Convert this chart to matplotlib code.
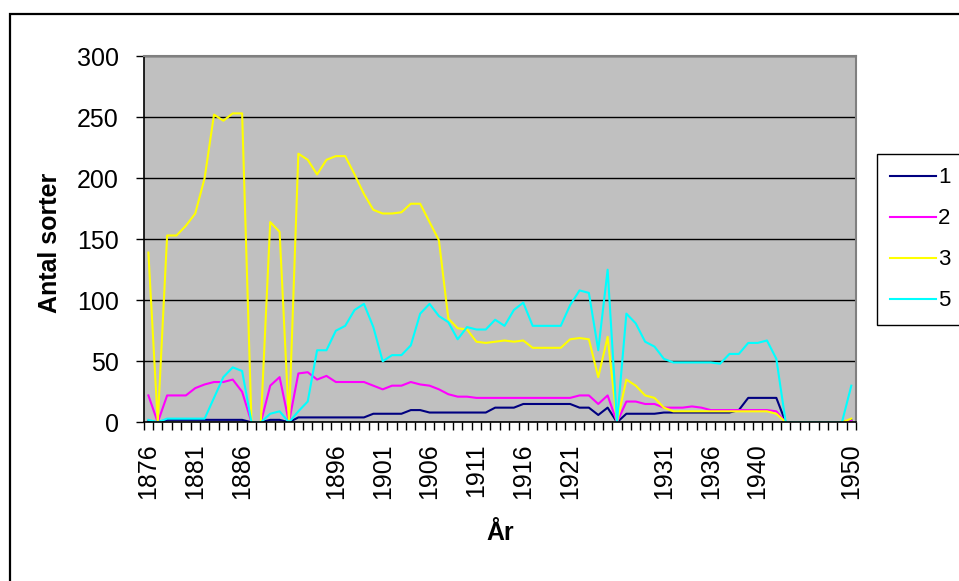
import numpy as np
import matplotlib
matplotlib.use('Agg')
import matplotlib.pyplot as plt
from matplotlib.patches import Rectangle

plt.rcParams['font.family'] = ['Liberation Sans', 'DejaVu Sans']

# labels shown on every 5th category (some label cells are empty)
tick_labels = ['1876', '1881', '1886', '', '1896', '1901', '1906', '1911',
               '1916', '1921', '', '1931', '1936', '1940', '', '1950']

serie_1 = [1, 0, 2, 2, 2, 2, 2, 2, 2, 2, 2, 0, 0, 2, 2, 0,
           4, 4, 4, 4, 4, 4, 4, 4, 7, 7, 7, 7, 10, 10, 8, 8,
           8, 8, 8, 8, 8, 12, 12, 12, 15, 15, 15, 15, 15, 15, 12, 12,
           6, 12, 0, 7, 7, 7, 7, 8, 8, 8, 8, 8, 8, 8, 8, 10,
           20, 20, 20, 20, 0, 0, 0, 0, 0, 0, 0, 2]

serie_2 = [22, 0, 22, 22, 22, 28, 31, 33, 33, 35, 25, 0, 0, 30, 37, 0,
           40, 41, 35, 38, 33, 33, 33, 33, 30, 27, 30, 30, 33, 31, 30, 27,
           23, 21, 21, 20, 20, 20, 20, 20, 20, 20, 20, 20, 20, 20, 22, 22,
           15, 22, 0, 17, 17, 15, 15, 12, 12, 12, 13, 12, 10, 10, 10, 10,
           10, 10, 10, 9, 0, 0, 0, 0, 0, 0, 0, 1]

serie_3 = [139, 0, 153, 153, 161, 171, 200, 252, 247, 253, 253, 0, 0, 164, 156, 0,
           220, 215, 203, 215, 218, 218, 203, 187, 174, 171, 171, 172, 179, 179, 164, 149,
           85, 77, 76, 66, 65, 66, 67, 66, 67, 61, 61, 61, 61, 68, 69, 68,
           37, 70, 0, 35, 30, 22, 20, 12, 9, 9, 9, 9, 9, 9, 9, 9,
           9, 9, 9, 7, 0, 0, 0, 0, 0, 0, 0, 3]

serie_5 = [2, 0, 3, 3, 3, 3, 3, 20, 37, 45, 42, 0, 0, 7, 9, 0,
           9, 17, 59, 59, 75, 79, 92, 97, 78, 50, 55, 55, 63, 89, 97, 87,
           82, 68, 78, 76, 76, 84, 79, 92, 98, 79, 79, 79, 79, 96, 108, 106,
           59, 125, 0, 89, 81, 66, 62, 52, 49, 49, 49, 49, 49, 48, 56, 56,
           65, 65, 67, 52, 0, 0, 0, 0, 0, 0, 0, 30]

series = [serie_1, serie_2, serie_3, serie_5]
names = ['1', '2', '3', '5']
colors = ['#000080', '#FF00FF', '#FFFF00', '#00FFFF']

fig = plt.figure(figsize=(9.59, 5.81), dpi=100)
ax = fig.add_axes([143.7 / 959, 1 - 422.3 / 581, 712.3 / 959, 366.3 / 581])

x = np.arange(len(serie_1))
for vals, col, name in zip(series, colors, names):
    ax.plot(x, vals, color=col, lw=1.5, label=name)

ax.set_facecolor('#C0C0C0')
ax.set_xlim(-0.5, len(x) - 0.5)
ax.set_ylim(0, 300)
ax.set_yticks(range(0, 301, 50))
ax.yaxis.grid(True, color='black', lw=1.0)
ax.set_axisbelow(True)

ax.set_xticks(np.arange(0, len(x), 5))
ax.set_xticklabels(tick_labels, rotation=90)
ax.set_xticks(np.arange(-0.5, len(x), 1), minor=True)
ax.tick_params(axis='x', which='major', length=0, pad=15, labelsize=18)
ax.tick_params(axis='x', which='minor', length=6, width=1, color='black')
ax.tick_params(axis='y', length=6, width=1, pad=12, labelsize=18)

for side in ['top', 'right']:
    ax.spines[side].set_color('#808080')
    ax.spines[side].set_linewidth(1.5)
for side in ['left', 'bottom']:
    ax.spines[side].set_color('black')
    ax.spines[side].set_linewidth(1.2)

ax.set_ylabel('Antal sorter', fontsize=18, fontweight='bold', va='center')
ax.yaxis.set_label_coords((50 - 143.7) / 712.3, 0.49)
ax.set_xlabel('År', fontsize=18, fontweight='bold', va='center')
ax.xaxis.set_label_coords(0.5, (422.3 - 533) / 366.3)

leg = ax.legend(loc='upper left', bbox_to_anchor=(877 / 959, 1 - 154 / 581),
                bbox_transform=fig.transFigure, borderaxespad=0, fontsize=16,
                handlelength=2.05, handletextpad=0.1, labelspacing=0.9,
                borderpad=0.6, fancybox=False, framealpha=1)
leg.get_frame().set_edgecolor('black')
leg.get_frame().set_linewidth(1.0)

fig.patches.append(Rectangle((9.5 / 959, -0.05), 1.1, 1 - 14 / 581 + 0.05,
                             transform=fig.transFigure, fill=False,
                             lw=1.6, ec='black'))

fig.savefig('out.png', dpi=100)
